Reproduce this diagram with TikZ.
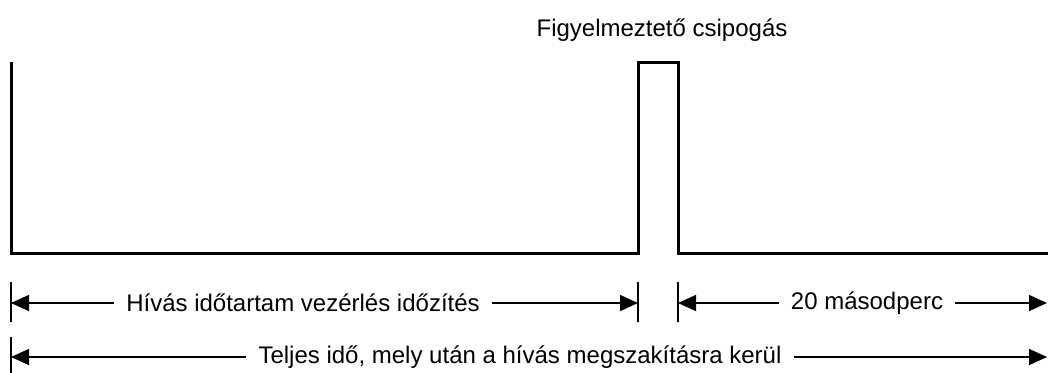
\documentclass[tikz,border=0pt]{standalone}
\usepackage{fontspec}
\setmainfont{Liberation Sans}
\usetikzlibrary{arrows.meta}

\begin{document}
\begin{tikzpicture}[x=0.5pt,y=-0.5pt,
  every node/.style={font=\fontsize{12}{14}\selectfont, inner sep=6pt},
  signal/.style={line width=1.5pt, line join=miter},
  tick/.style={line width=1pt},
  dim/.style={line width=0.75pt, -{Triangle[length=9pt,width=8pt]}}]
  \useasboundingbox (0,0) rectangle (1048,372);
  % signal
  \coordinate (s0) at (11,62);
  \coordinate (s1) at (11,253);
  \coordinate (s2) at (638,253);
  \coordinate (s3) at (638,62);
  \coordinate (s4) at (678,62);
  \coordinate (s5) at (678,253);
  \coordinate (s6) at (1048,253);
  \draw [signal] (s0) -- (s1) -- (s2) -- (s3) -- (s4) -- (s5) -- (s6);
  \node (beep) at (662,30) {Figyelmeztető csipogás};
  % ticks
  \draw [tick] (11,282) coordinate (ta) -- (11,322);
  \draw [tick] (11,337) coordinate (tb) -- (11,377);
  \draw [tick] (638,282) coordinate (tc) -- (638,322);
  \draw [tick] (678,282) coordinate (td) -- (678,322);
  % dimensions
  \coordinate (a1) at (11,303);
  \coordinate (a2) at (638,303);
  \coordinate (a3) at (678,303);
  \coordinate (a4) at (1047,303);
  \coordinate (b1) at (11,357);
  \coordinate (b2) at (1047,357);
  \node (call) at (303,303) {Hívás időtartam vezérlés időzítés};
  \node (sec) at (867,303) {20 másodperc};
  \node (total) at (520,357) {Teljes idő, mely után a hívás megszakításra kerül};
  \draw [dim] (call) -- (a1);
  \draw [dim] (call) -- (a2);
  \draw [dim] (sec) -- (a3);
  \draw [dim] (sec) -- (a4);
  \draw [dim] (total) -- (b1);
  \draw [dim] (total) -- (b2);
\end{tikzpicture}
\end{document}
